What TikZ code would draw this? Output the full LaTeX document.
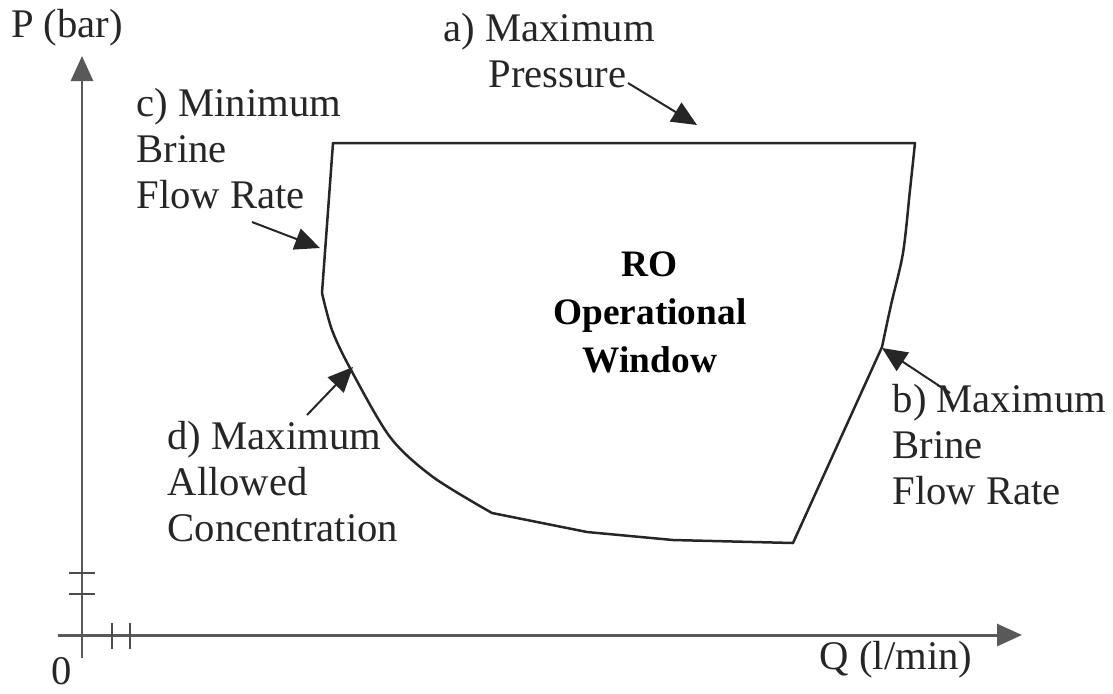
\documentclass[tikz,border=0pt]{standalone}
\usepackage{fontspec}
\setmainfont{Liberation Serif}
\usetikzlibrary{arrows.meta}
\begin{document}
\begin{tikzpicture}[x=0.3pt,y=-0.3pt,
  lbl/.style={inner sep=0pt,align=left,font=\fontsize{12.2}{13.8}\selectfont,text=black!85},
  ttl/.style={inner sep=0pt,align=center,font=\fontsize{11.2}{14.4}\selectfont\bfseries},
  axis/.style={draw=black!65,line width=0.9pt},
  tip/.style={-{Triangle[length=7.5pt,width=6.6pt]}},
  pointer/.style={draw=black!85,line width=0.6pt,tip},
  tick/.style={draw=black!70,line width=0.7pt},
  window/.style={draw=black!85,line width=0.75pt,line join=round}]
\useasboundingbox (0,0) rectangle (1113,693);
% axes
\coordinate (ybot) at (82,658);
\coordinate (ytop) at (82,56);
\coordinate (xleft) at (58,635);
\coordinate (xright) at (1022,635);
\draw[axis,tip] (ybot) -- (ytop);
\draw[axis,tip] (xleft) -- (xright);
% ticks
\coordinate (yt1a) at (69,573); \coordinate (yt1b) at (95,573);
\coordinate (yt2a) at (69,594); \coordinate (yt2b) at (95,594);
\coordinate (xt1a) at (112,623); \coordinate (xt1b) at (112,649);
\coordinate (xt2a) at (130,623); \coordinate (xt2b) at (130,649);
\draw[tick] (yt1a) -- (yt1b);
\draw[tick] (yt2a) -- (yt2b);
\draw[tick] (xt1a) -- (xt1b);
\draw[tick] (xt2a) -- (xt2b);
% axis labels
\node[lbl] (plabel) at (67,28) {P (bar)};
\node[lbl] (qlabel) at (896,660) {Q (l/min)};
\node[lbl] (zero) at (62,671) {0};
% operational window
\draw[window] (333,143) -- (915,143)
  -- plot[smooth] coordinates {(915,143) (910,190) (903,253) (891,305) (882,347)}
  -- (793,543) -- (673,540) -- (587,532) -- (492,513)
  -- plot[smooth] coordinates {(492,513) (433,477) (390,437) (350,368) (332,330) (322,293)}
  -- cycle;
\node[ttl] (title) at (650,312) {RO\\Operational\\Window};
% labels
\node[lbl,anchor=west] (alab) at (443,51) {a) Maximum\\\hspace{13.5pt}Pressure};
\node[lbl,anchor=west] (clab) at (136,149) {c) Minimum\\Brine\\Flow Rate};
\node[lbl,anchor=west] (blab) at (892,445) {b) Maximum\\Brine\\Flow Rate};
\node[lbl,anchor=west] (dlab) at (167,482) {d) Maximum\\Allowed\\Concentration};
% pointers
\coordinate (atail) at (628,83); \coordinate (ahead) at (697,125);
\coordinate (ctail) at (252,222); \coordinate (chead) at (320,248);
\coordinate (btail) at (950,393); \coordinate (bhead) at (882,348);
\coordinate (dtail) at (307,415); \coordinate (dhead) at (353,367);
\draw[pointer] (atail) -- (ahead);
\draw[pointer] (ctail) -- (chead);
\draw[pointer] (btail) -- (bhead);
\draw[pointer] (dtail) -- (dhead);
\end{tikzpicture}
\end{document}
